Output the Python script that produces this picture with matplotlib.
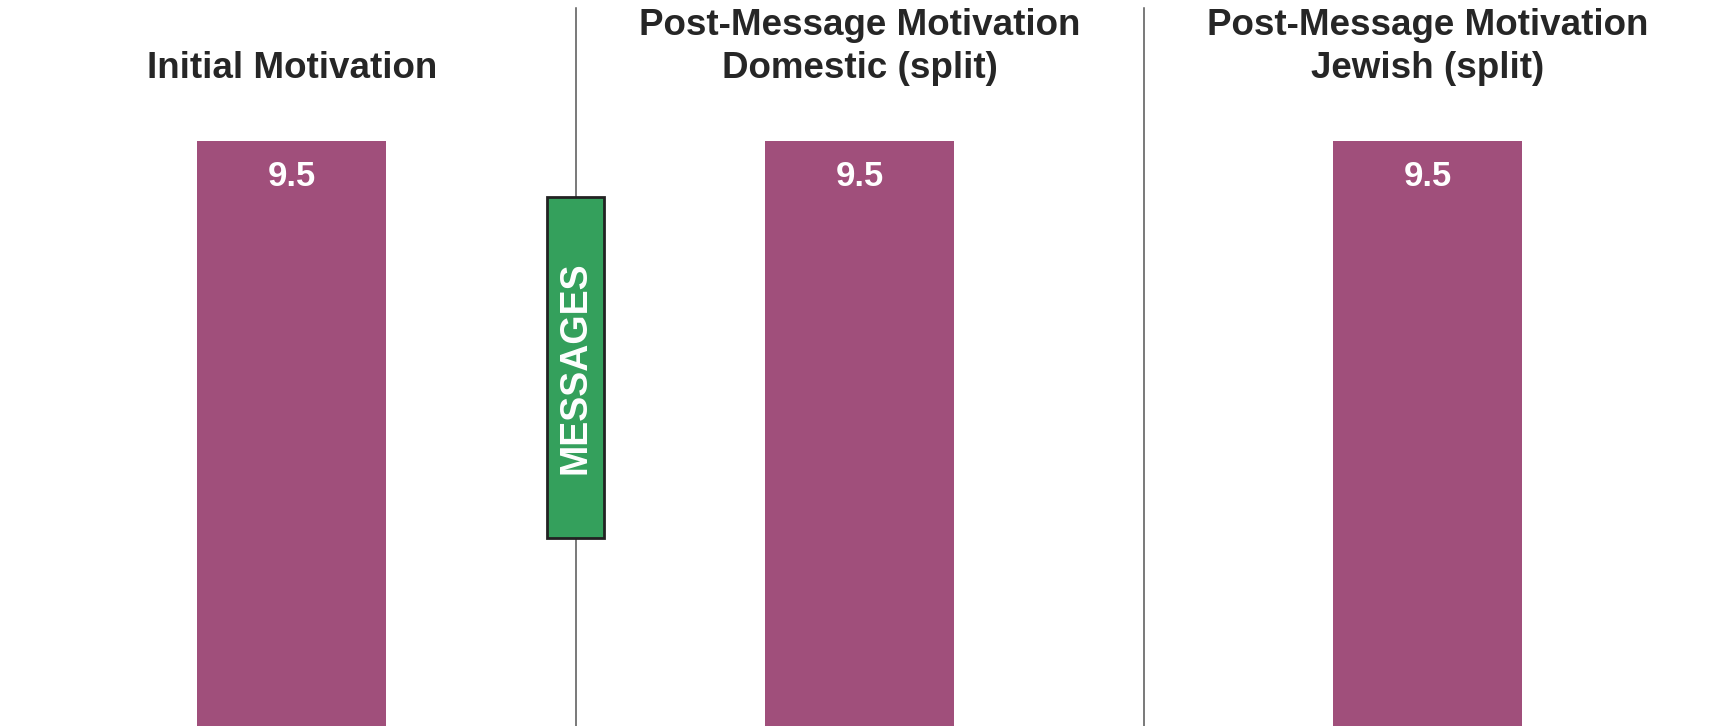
import matplotlib.pyplot as plt
from matplotlib.patches import Rectangle

plt.rcParams['font.family'] = ['Liberation Sans', 'DejaVu Sans']

titles = ["Initial Motivation",
          "Post-Message Motivation\nDomestic (split)",
          "Post-Message Motivation\nJewish (split)"]
values = [9.5, 9.5, 9.5]
divider_label = "MESSAGES"

bar_color = "#a04f7b"
box_color = "#34a05c"
text_dark = "#262626"

fig = plt.figure(figsize=(17.09, 7.26), dpi=100)
ax = fig.add_axes([0, 0, 1, 1])
ax.set_xlim(-0.0135, 2.9955)
ax.set_ylim(0, 11.78)
ax.axis("off")

xs = [i + 0.5 for i in range(len(values))]
bars = ax.bar(xs, values, width=0.334, color=bar_color)

for x, v in zip(xs, values):
    ax.annotate(f"{v:.1f}", (x, v), xytext=(0, -26), textcoords="offset points",
                ha="center", va="center", color="white", fontsize=25, fontweight="bold")

for x, t in zip(xs, titles):
    n = t.count("\n") + 1
    y = 1 - 68 / 726 if n == 1 else 1 - 47 / 726
    ax.text(x, y, t, transform=ax.get_xaxis_transform(), ha="center", va="center",
            fontsize=26.5, fontweight="bold", color=text_dark, linespacing=1.3)

# dividers between panels
for x in [1.0, 2.0]:
    ax.axvline(x, ymin=0, ymax=0.9895, color="#555555", lw=1.1, zorder=1)

# messages box on the first divider
box = Rectangle((1.0 - 0.05, 3.05), 0.1, 8.58 - 3.05, facecolor=box_color,
                edgecolor="#222222", lw=2, zorder=3)
ax.add_patch(box)
ax.text(1.0, (3.05 + 8.58) / 2, divider_label, rotation=90, ha="center", va="center",
        color="white", fontsize=27, fontweight="bold", zorder=4)

fig.savefig("out.png", dpi=100)
plt.close(fig)
